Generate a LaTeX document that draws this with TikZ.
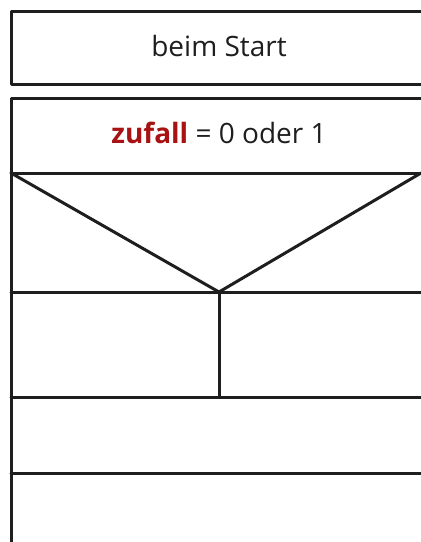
\documentclass[tikz,border=0pt]{standalone}
\usepackage{fontspec}
\setmainfont{Open Sans}
\definecolor{ink}{HTML}{1E1E1E}
\definecolor{varred}{HTML}{A81212}
\begin{document}
\begin{tikzpicture}[x=1pt, y=-1pt, line join=round, line cap=round, font=\fontsize{28}{32}\selectfont]
	\tikzset{declare function={l=11;r=424;m=219;},
		rule/.style={line width=3pt, draw=ink}}
	\useasboundingbox (0,0) rectangle (421,542);
	\clip (0,0) rectangle (421,542);
	% block edges
	\path
	\foreach \y/\n in {11/T1, 84/B1, 98/T2, 173/C, 292/Y, 397/E, 473/F}{
		(l,\y) coordinate (\n l) (r,\y) coordinate (\n r)
	}
	(m,292) coordinate (V) (l,548) coordinate (Z) (421,173) coordinate (Cx)
	;
	% start block
	\draw [rule] (B1r)--(B1l)--(T1l)--(T1r);
	\node [text=ink] (start) at (m,46) {beim Start};
	% assignment and branch
	\draw [rule] (Z)--(T2l)--(T2r);
	\node [text=ink] (assign) at (m,133) {\textcolor{varred}{\textbf{zufall}} = 0 oder 1};
	\foreach \n in {C,Y,E,F}{
		\draw [rule] (\n l)--(\n r);
	}
	\draw [rule] (Cl)--(V)--(Cx);
	\draw [rule] (V)--(m,397);
\end{tikzpicture}
\end{document}
